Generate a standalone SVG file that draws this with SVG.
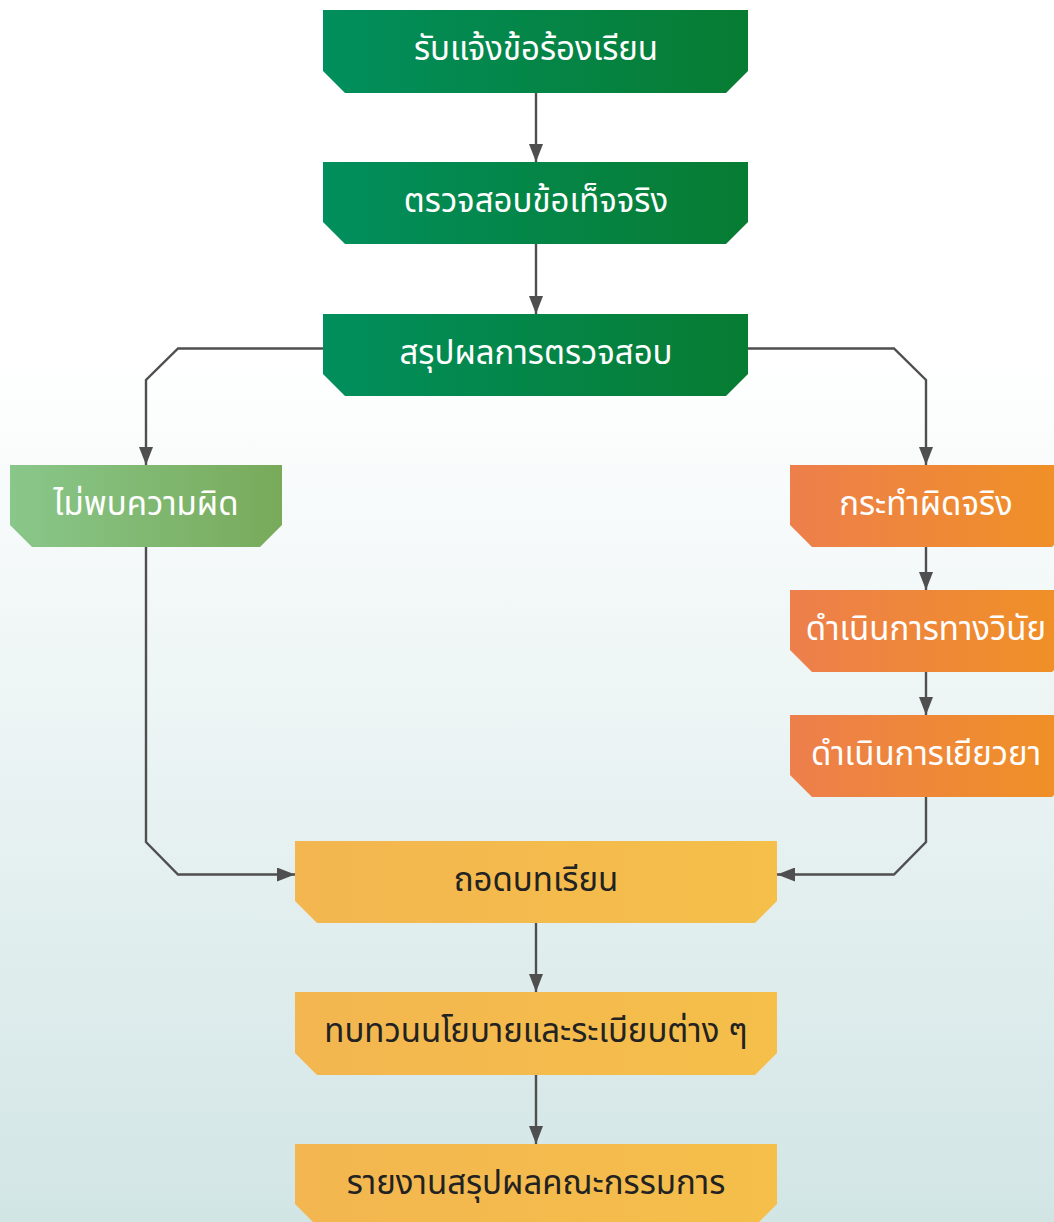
<svg xmlns="http://www.w3.org/2000/svg" width="1054" height="1222" viewBox="0 0 1054 1222">
  <defs>
    <linearGradient id="bg" x1="0" y1="0" x2="0" y2="1">
      <stop offset="0" stop-color="#ffffff"/>
      <stop offset="0.29" stop-color="#ffffff"/>
      <stop offset="1" stop-color="#d2e5e5"/>
    </linearGradient>
    <linearGradient id="gGreen" x1="0" y1="0" x2="1" y2="0">
      <stop offset="0" stop-color="#018f5d"/>
      <stop offset="1" stop-color="#077c32"/>
    </linearGradient>
    <linearGradient id="gLight" x1="0" y1="0" x2="1" y2="0">
      <stop offset="0" stop-color="#89c78a"/>
      <stop offset="1" stop-color="#78aa5a"/>
    </linearGradient>
    <linearGradient id="gOrange" x1="0" y1="0" x2="1" y2="0">
      <stop offset="0" stop-color="#ed7f4c"/>
      <stop offset="1" stop-color="#f09124"/>
    </linearGradient>
    <linearGradient id="gYellow" x1="0" y1="0" x2="1" y2="0">
      <stop offset="0" stop-color="#f3b650"/>
      <stop offset="1" stop-color="#f5bf4a"/>
    </linearGradient>
    <marker id="arrow" viewBox="0 0 18 14" refX="18" refY="7" markerWidth="18" markerHeight="14" markerUnits="userSpaceOnUse" orient="auto">
      <path d="M0,0 L18,7 L0,14 Z" fill="#4f4f4f"/>
    </marker>
    <style>
      .lbl { font-family: "Noto Sans Thai", "Kanit", "Noto Sans", "DejaVu Sans", sans-serif; font-size: 33px; text-anchor: middle; dominant-baseline: central; }
      .w { fill: #ffffff; }
      .d { fill: #222222; }
      .edge { fill: none; stroke: #4f4f4f; stroke-width: 2.4; marker-end: url(#arrow); }
    </style>
  </defs>

  <rect x="0" y="0" width="1054" height="1222" fill="url(#bg)"/>

  <!-- connectors -->
  <g id="connectors">
    <path class="edge" d="M536,93 V162"/>
    <path class="edge" d="M536,244 V314"/>
    <path class="edge" d="M323,348.5 H178 L146,380 V465"/>
    <path class="edge" d="M748,348.5 H894 L926,380 V465"/>
    <path class="edge" d="M146,547 V842 L178,874.5 H295"/>
    <path class="edge" d="M926,547 V590"/>
    <path class="edge" d="M926,672 V715"/>
    <path class="edge" d="M926,797 V842 L894,874.5 H777"/>
    <path class="edge" d="M536,923 V992"/>
    <path class="edge" d="M536,1075 V1144"/>
  </g>

  <!-- nodes: square top, chamfered bottom corners -->
  <g id="n1">
    <path d="M323,10 H748 V71 L726,93 H345 L323,71 Z" fill="url(#gGreen)"/>
    <text class="lbl w" x="536" y="50">รับแจ้งข้อร้องเรียน</text>
  </g>
  <g id="n2">
    <path d="M323,162 H748 V222 L726,244 H345 L323,222 Z" fill="url(#gGreen)"/>
    <text class="lbl w" x="536" y="202">ตรวจสอบข้อเท็จจริง</text>
  </g>
  <g id="n3">
    <path d="M323,314 H748 V374 L726,396 H345 L323,374 Z" fill="url(#gGreen)"/>
    <text class="lbl w" x="536" y="354">สรุปผลการตรวจสอบ</text>
  </g>
  <g id="n4">
    <path d="M10,465 H282 V525 L260,547 H32 L10,525 Z" fill="url(#gLight)"/>
    <text class="lbl w" x="146" y="505">ไม่พบความผิด</text>
  </g>
  <g id="n5">
    <path d="M790,465 H1074 V525 L1052,547 H812 L790,525 Z" fill="url(#gOrange)"/>
    <text class="lbl w" x="926" y="505">กระทำผิดจริง</text>
  </g>
  <g id="n6">
    <path d="M790,590 H1074 V650 L1052,672 H812 L790,650 Z" fill="url(#gOrange)"/>
    <text class="lbl w" x="926" y="630">ดำเนินการทางวินัย</text>
  </g>
  <g id="n7">
    <path d="M790,715 H1074 V775 L1052,797 H812 L790,775 Z" fill="url(#gOrange)"/>
    <text class="lbl w" x="926" y="755">ดำเนินการเยียวยา</text>
  </g>
  <g id="n8">
    <path d="M295,841 H777 V901 L755,923 H317 L295,901 Z" fill="url(#gYellow)"/>
    <text class="lbl d" x="536" y="881">ถอดบทเรียน</text>
  </g>
  <g id="n9">
    <path d="M295,992 H777 V1053 L755,1075 H317 L295,1053 Z" fill="url(#gYellow)"/>
    <text class="lbl d" x="536" y="1032">ทบทวนนโยบายและระเบียบต่าง ๆ</text>
  </g>
  <g id="n10">
    <path d="M295,1144 H777 V1204 L755,1226 H317 L295,1204 Z" fill="url(#gYellow)"/>
    <text class="lbl d" x="536" y="1184">รายงานสรุปผลคณะกรรมการ</text>
  </g>
</svg>
